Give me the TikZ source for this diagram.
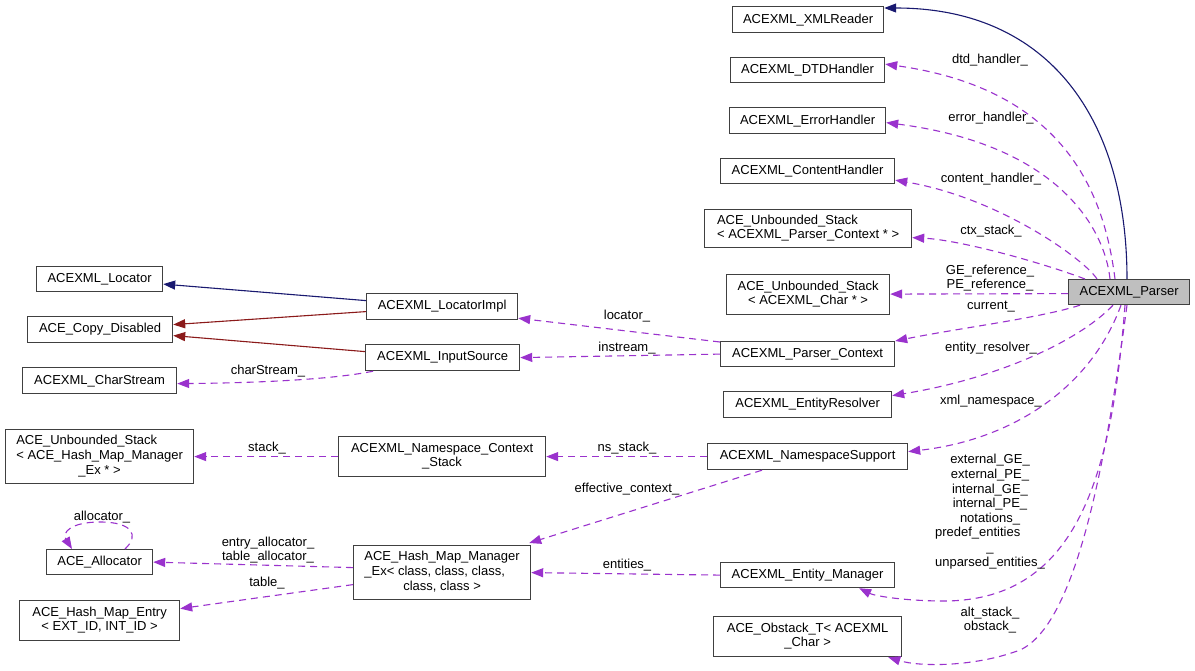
\documentclass[tikz,border=0pt]{standalone}
\usepackage{fontspec}
\setmainfont{Liberation Sans}
\usetikzlibrary{arrows.meta,calc}
\definecolor{edgepurple}{HTML}{9A32CD}
\definecolor{navyedge}{HTML}{191970}
\definecolor{fireedge}{HTML}{8B1A1A}
\definecolor{parserfill}{HTML}{BFBFBF}
\begin{document}
\begin{tikzpicture}[x=1pt,y=-1pt,
  cls/.style={draw=black!75, line width=1.2pt, inner sep=0pt, anchor=north west,
    font=\fontsize{13}{14.6}\selectfont},
  lbl/.style={inner sep=0pt, align=center, font=\fontsize{13}{14.6}\selectfont},
  member/.style={draw=edgepurple, line width=1.1pt, dash pattern=on 7pt off 5pt,
    -{Triangle[length=12pt,width=9pt]}},
  inherit/.style={draw=navyedge, line width=1.1pt, -{Triangle[length=12pt,width=9pt]}},
  privinh/.style={draw=fireedge, line width=1.1pt, -{Triangle[length=12pt,width=9pt]}}]
\fill[white] (0,0) rectangle (1195,670);
\path[use as bounding box] (0,0) rectangle (1195,670);

% right column
\node[cls, minimum width=151pt, minimum height=26pt] (xmlreader) at (732,6) {ACEXML\_XMLReader};
\node[cls, minimum width=154pt, minimum height=25pt] (dtd) at (730,57) {ACEXML\_DTDHandler};
\node[cls, minimum width=156pt, minimum height=26pt] (err) at (729,107) {ACEXML\_ErrorHandler};
\node[cls, minimum width=174pt, minimum height=25pt] (content) at (720,158) {ACEXML\_ContentHandler};
\node[cls, minimum width=207pt, minimum height=38pt] (ctxstack) at (704,209)
  {\begin{tabular}{@{}l@{}}ACE\_Unbounded\_Stack\\\multicolumn{1}{@{}c@{}}{< ACEXML\_Parser\_Context * >}\end{tabular}};
\node[cls, minimum width=163pt, minimum height=40pt] (charstack) at (726,274)
  {\begin{tabular}{@{}l@{}}ACE\_Unbounded\_Stack\\\multicolumn{1}{@{}c@{}}{< ACEXML\_Char * >}\end{tabular}};
\node[cls, fill=parserfill, minimum width=121pt, minimum height=25pt] (parser) at (1068,279) {ACEXML\_Parser};
\node[cls, minimum width=174pt, minimum height=25pt] (pctx) at (720,341) {ACEXML\_Parser\_Context};
\node[cls, minimum width=168pt, minimum height=26pt] (resolver) at (723,391) {ACEXML\_EntityResolver};
\node[cls, minimum width=200pt, minimum height=26pt] (nssupport) at (707,443) {ACEXML\_NamespaceSupport};
\node[cls, minimum width=174pt, minimum height=25pt] (entmgr) at (720,562) {ACEXML\_Entity\_Manager};
\node[cls, minimum width=188pt, minimum height=40pt] (obstack) at (713,616)
  {\begin{tabular}{@{}l@{}}ACE\_Obstack\_T< ACEXML\\\multicolumn{1}{@{}c@{}}{\_Char >}\end{tabular}};

% left part
\node[cls, minimum width=126pt, minimum height=25pt] (locator) at (36,266) {ACEXML\_Locator};
\node[cls, minimum width=145pt, minimum height=26pt] (copy) at (27,316) {ACE\_Copy\_Disabled};
\node[cls, minimum width=154pt, minimum height=26pt] (charstream) at (22,367) {ACEXML\_CharStream};
\node[cls, minimum width=151pt, minimum height=26pt] (locimpl) at (366,293) {ACEXML\_LocatorImpl};
\node[cls, minimum width=154pt, minimum height=26pt] (input) at (365,344) {ACEXML\_InputSource};
\node[cls, minimum width=207pt, minimum height=40pt] (nsctx) at (338,436)
  {\begin{tabular}{@{}l@{}}ACEXML\_Namespace\_Context\\\multicolumn{1}{@{}c@{}}{\_Stack}\end{tabular}};
\node[cls, minimum width=177pt, minimum height=54pt] (hmm) at (353,545)
  {\begin{tabular}{@{}l@{}}ACE\_Hash\_Map\_Manager\\\_Ex< class, class, class,\\\multicolumn{1}{@{}c@{}}{class, class >}\end{tabular}};
\node[cls, minimum width=188pt, minimum height=54pt] (ubshmm) at (5,429)
  {\begin{tabular}{@{}l@{}}ACE\_Unbounded\_Stack\\< ACE\_Hash\_Map\_Manager\\\multicolumn{1}{@{}c@{}}{\_Ex * >}\end{tabular}};
\node[cls, minimum width=106pt, minimum height=25pt] (alloc) at (46,549) {ACE\_Allocator};
\node[cls, minimum width=160pt, minimum height=40pt] (hme) at (19,600)
  {\begin{tabular}{@{}c@{}}ACE\_Hash\_Map\_Entry\\< EXT\_ID, INT\_ID >\end{tabular}};

% edges from the parser
\draw[inherit] ($(parser.north west)+(59,0)$) .. controls (1127,120) and (1050,8) .. ($(xmlreader.north east)+(0,2)$);
\draw[member] ($(parser.north west)+(47,0)$) .. controls (1105,200) and (1070,90) .. ($(dtd.east)+(0,-6)$);
\draw[member] ($(parser.north west)+(42,0)$) .. controls (1105,230) and (1060,145) .. ($(err.east)+(0,2)$);
\draw[member] ($(parser.north west)+(29,0)$) .. controls (1085,260) and (1000,198) .. ($(content.east)+(0,9)$);
\draw[member] ($(parser.north west)+(17,0)$) .. controls (1040,262) and (960,240) .. ($(ctxstack.east)+(0,9)$);
\draw[member] ($(parser.west)+(0,1.5)$) -- ($(charstack.east)+(0,-0.5)$);
\draw[member] ($(parser.south west)+(12,0)$) .. controls (1040,318) and (960,328) .. (pctx.north east);
\draw[member] ($(parser.south west)+(45,0)$) .. controls (1080,340) and (1000,378) .. ($(resolver.east)+(0,-9)$);
\draw[member] ($(parser.south west)+(53,0)$) .. controls (1090,390) and (1010,440) .. ($(nssupport.east)+(0,-5)$);
\draw[member] ($(parser.south west)+(57,0)$) .. controls (1112,470) and (1080,600) .. (945,601)
  .. controls (905,601) and (875,596) .. ($(entmgr.south east)+(-36,0)$);
\draw[member] ($(parser.south west)+(59,0)$) .. controls (1105,470) and (1075,625) .. (1020,650)
  .. controls (975,667) and (920,667) .. ($(obstack.south east)+(-14,0)$);

% middle / left edges
\draw[member] ($(pctx.north west)+(0,1)$) -- ($(locimpl.south east)+(0,-2)$);
\draw[member] (pctx.west) -- (input.east);
\draw[member] ($(input.south west)+(8,0)$) .. controls (330,380) and (250,383) .. ($(charstream.east)+(0,3)$);
\draw[inherit] ($(locimpl.west)+(0,-6)$) -- ($(locator.east)+(0,5)$);
\draw[privinh] ($(locimpl.west)+(0,5)$) -- ($(copy.east)+(0,-5)$);
\draw[privinh] ($(input.west)+(0,-6)$) -- ($(copy.east)+(0,6)$);
\draw[member] (nssupport.west) -- (nsctx.east);
\draw[member] (nsctx.west) -- (ubshmm.east);
\draw[member] ($(nssupport.south west)+(55,0)$) -- ($(hmm.north east)+(-2,-2)$);
\draw[member] (entmgr.west) -- (hmm.east);
\draw[member] ($(hmm.west)+(0,-5)$) -- (alloc.east);
\draw[member] ($(hmm.west)+(0,12)$) -- ($(hme.east)+(0,-12)$);
\draw[member] ($(alloc.north west)+(79,0)$) .. controls (140,535) and (132,522) .. (100,522)
  .. controls (70,522) and (62,533) .. ($(alloc.north west)+(26,0)$);

% edge labels
\node[lbl] (ldtd) at (990,60) {dtd\_handler\_};
\node[lbl] (lerr) at (991,118) {error\_handler\_};
\node[lbl] (lcontent) at (991,179) {content\_handler\_};
\node[lbl] (lctx) at (991,231) {ctx\_stack\_};
\node[lbl] (lref) at (990,278) {GE\_reference\_\\PE\_reference\_};
\node[lbl] (lcur) at (991,307) {current\_};
\node[lbl] (lres) at (991,348) {entity\_resolver\_};
\node[lbl] (lxml) at (991,401) {xml\_namespace\_};
\node[lbl] (lent) at (990,512) {\begin{tabular}{@{}c@{}}external\_GE\_\\external\_PE\_\\internal\_GE\_\\internal\_PE\_\\notations\_\\\multicolumn{1}{@{}l@{}}{predef\_entities}\\\_\\unparsed\_entities\_\end{tabular}};
\node[lbl] (lobs) at (990,620) {alt\_stack\_\\obstack\_};
\node[lbl] (lloc) at (627,316) {locator\_};
\node[lbl] (linst) at (627,348) {instream\_};
\node[lbl] (lcs) at (268,371) {charStream\_};
\node[lbl] (lns) at (627,448) {ns\_stack\_};
\node[lbl] (leff) at (627,489) {effective\_context\_};
\node[lbl] (lents) at (627,565) {entities\_};
\node[lbl] (lstack) at (267,448) {stack\_};
\node[lbl] (lalloc2) at (268,550) {entry\_allocator\_\\table\_allocator\_};
\node[lbl] (ltable) at (267,583) {table\_};
\node[lbl] (lalloc) at (102,517) {allocator\_};
\end{tikzpicture}
\end{document}
